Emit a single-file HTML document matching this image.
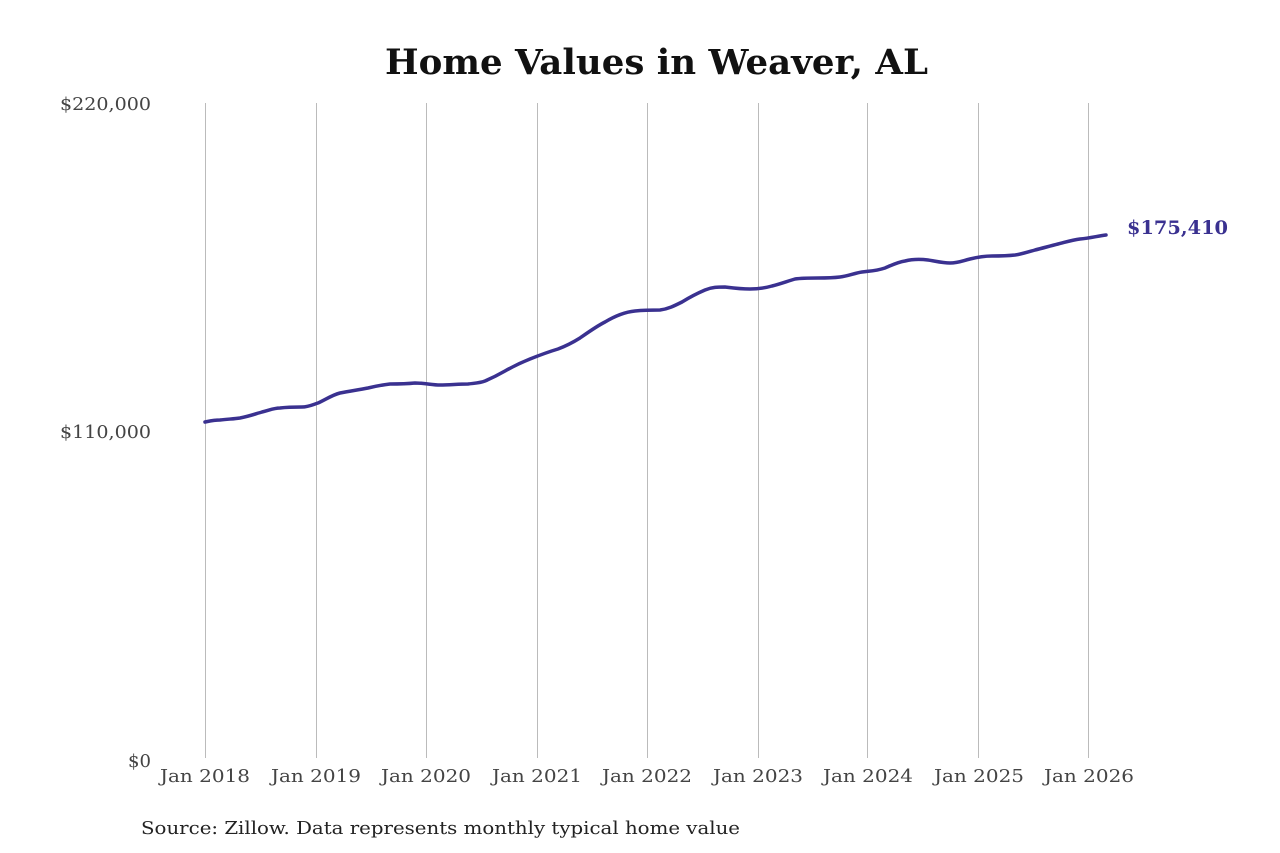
<!DOCTYPE html>
<html><head><meta charset="utf-8"><style>
html,body{margin:0;padding:0;background:#fff;}
svg{display:block;}
</style></head><body>
<svg width="1280" height="853" viewBox="0 0 1280 853" xmlns="http://www.w3.org/2000/svg">
<rect width="1280" height="853" fill="#fff"/>
<text x="385" y="74" textLength="543" lengthAdjust="spacingAndGlyphs" font-family="DejaVu Serif, Liberation Serif, serif" font-weight="bold" font-size="35" fill="#111">Home Values in Weaver, AL</text>
<g stroke="#bbb" stroke-width="1">
<line x1="205.5" y1="103" x2="205.5" y2="758"/>
<line x1="316.5" y1="103" x2="316.5" y2="758"/>
<line x1="426.5" y1="103" x2="426.5" y2="758"/>
<line x1="537.5" y1="103" x2="537.5" y2="758"/>
<line x1="647.5" y1="103" x2="647.5" y2="758"/>
<line x1="758.5" y1="103" x2="758.5" y2="758"/>
<line x1="867.5" y1="103" x2="867.5" y2="758"/>
<line x1="978.5" y1="103" x2="978.5" y2="758"/>
<line x1="1088.5" y1="103" x2="1088.5" y2="758"/>
</g>
<g font-family="DejaVu Serif, Liberation Serif, serif" font-size="18" fill="#444" lengthAdjust="spacingAndGlyphs">
<text x="60" y="110" textLength="91" lengthAdjust="spacingAndGlyphs">$220,000</text>
<text x="60" y="438" textLength="91" lengthAdjust="spacingAndGlyphs">$110,000</text>
<text x="128" y="767" textLength="23" lengthAdjust="spacingAndGlyphs">$0</text>
<text x="160" y="782" textLength="90" lengthAdjust="spacingAndGlyphs">Jan 2018</text>
<text x="271" y="782" textLength="90" lengthAdjust="spacingAndGlyphs">Jan 2019</text>
<text x="381" y="782" textLength="90" lengthAdjust="spacingAndGlyphs">Jan 2020</text>
<text x="492" y="782" textLength="90" lengthAdjust="spacingAndGlyphs">Jan 2021</text>
<text x="602" y="782" textLength="90" lengthAdjust="spacingAndGlyphs">Jan 2022</text>
<text x="713" y="782" textLength="90" lengthAdjust="spacingAndGlyphs">Jan 2023</text>
<text x="823" y="782" textLength="90" lengthAdjust="spacingAndGlyphs">Jan 2024</text>
<text x="934" y="782" textLength="90" lengthAdjust="spacingAndGlyphs">Jan 2025</text>
<text x="1044" y="782" textLength="90" lengthAdjust="spacingAndGlyphs">Jan 2026</text>
</g>
<text x="141" y="834" textLength="599" lengthAdjust="spacingAndGlyphs" font-family="DejaVu Serif, Liberation Serif, serif" font-size="18" fill="#222">Source: Zillow. Data represents monthly typical home value</text>
<path fill="none" stroke="#3a3190" stroke-width="3.5" stroke-linejoin="round" stroke-linecap="round"
d="M205,422 C210,421 214,420 220,420 C228,419 234,419 240,418 C250,416 255,414 262,412 C270,410 274,408 280,408 C288,407 295,407 302,407 C308,407 312,405 318,403 C325,400 332,395 340,393 C350,391 358,390 368,388 C376,386 382,385 390,384 C398,384 405,384 415,383 C425,383 432,385 440,385 C450,385 458,384 468,384 C476,383 480,383 485,381 C492,378 498,375 505,371 C512,367 520,363 530,359 C540,355 548,352 558,349 C566,346 572,343 580,338 C590,331 597,326 605,322 C615,316 625,312 635,311 C645,310 652,310 660,310 C668,309 674,306 682,302 C690,297 698,293 705,290 C712,287 718,287 725,287 C733,288 740,289 750,289 C758,289 765,288 772,286 C780,284 788,281 795,279 C802,278 810,278 818,278 C826,278 832,278 840,277 C848,276 855,273 862,272 C870,271 876,271 885,268 C892,265 898,262 905,261 C913,259 920,259 928,260 C935,261 942,263 950,263 C958,263 962,261 970,259 C978,257 984,256 992,256 C1000,256 1006,256 1015,255 C1022,254 1028,252 1035,250 C1043,248 1050,246 1058,244 C1066,242 1072,240 1080,239 C1090,238 1098,236 1106,235"/>
<text x="1127" y="234" textLength="101" lengthAdjust="spacingAndGlyphs" font-family="DejaVu Serif, Liberation Serif, serif" font-weight="bold" font-size="19" fill="#3a3190">$175,410</text>
</svg>
</body></html>
